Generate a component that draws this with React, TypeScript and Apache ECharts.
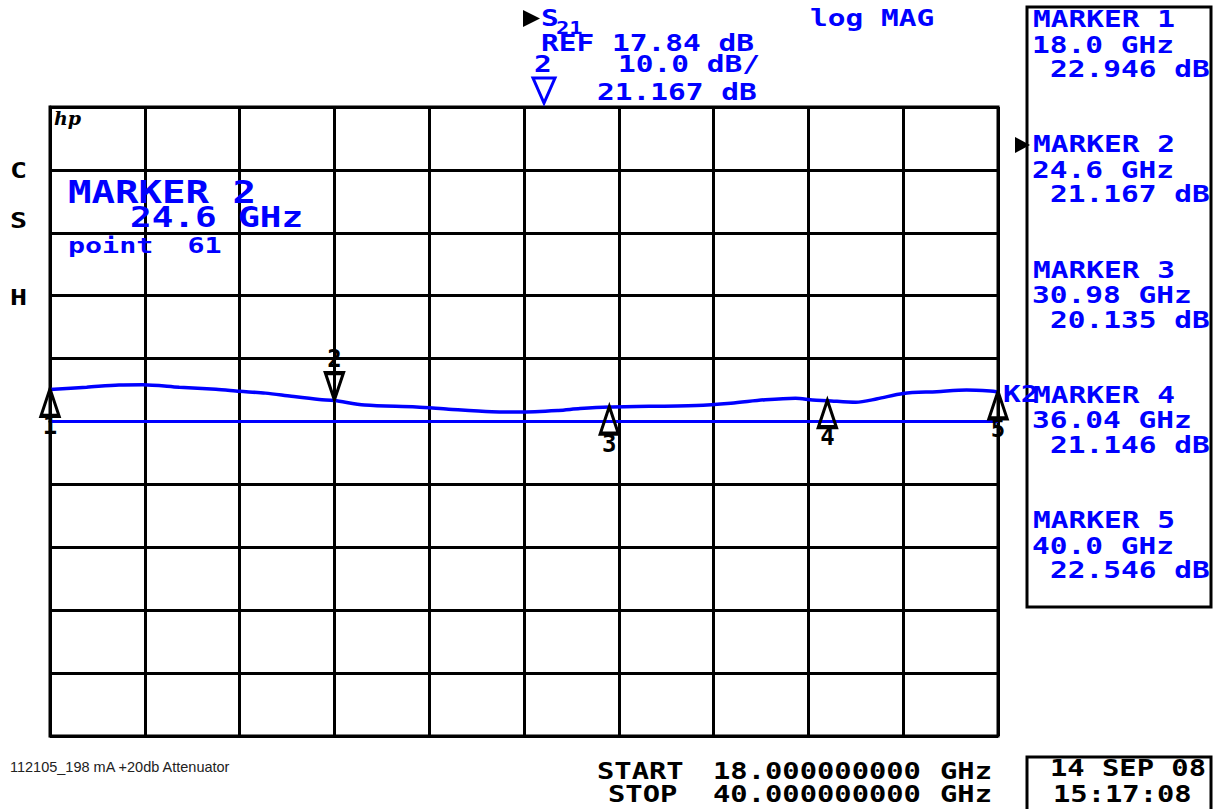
import React, { useEffect, useRef } from "react";
import * as echarts from "echarts";

// ---- data ----
const START_GHZ = 18;
const STOP_GHZ = 40;
const REF_DB = 17.84;
const SCALE_DB = 10; // dB per division
const X_DIVS = 10;
const Y_DIVS = 10;

const traceFreq = [
  18.0, 18.85, 19.6, 20.15, 21.0, 21.85, 22.4, 23.0, 23.6, 24.25, 24.6, 25.3,
  26.5, 27.25, 28.25, 28.9, 29.8, 30.3, 30.98, 33.0, 33.8, 34.6, 35.3, 35.7,
  36.04, 36.7, 37.2, 37.8, 38.58, 39.27, 39.82, 40.0,
];
const traceDb = [
  22.946, 23.3, 23.65, 23.7, 23.3, 22.95, 22.65, 22.35, 21.85, 21.35, 21.167,
  20.45, 20.15, 19.8, 19.4, 19.35, 19.6, 19.9, 20.135, 20.4, 20.75, 21.3, 21.55,
  21.25, 21.146, 20.9, 21.45, 22.3, 22.58, 22.85, 22.69, 22.546,
];

const markerNames = ["1", "2", "3", "4", "5"];
const markerFreq = [18.0, 24.6, 30.98, 36.04, 40.0];
const markerFreqLabel = ["18.0 GHz", "24.6 GHz", "30.98 GHz", "36.04 GHz", "40.0 GHz"];
const markerDb = [22.946, 21.167, 20.135, 21.146, 22.546];
const activeMarker = 1; // index of MARKER 2
const activePoint = 61;

const dateLines = ["14 SEP 08", "15:17:08"];
const footnote = "112105_198 mA +20db Attenuator";

// ---- styling ----
const BLUE = "#0000ff";
const MONO = '"DejaVu Sans Mono", monospace';

function txt(
  text: string,
  x: number,
  y: number,
  size = 22.5,
  color = BLUE,
  scaleX = 1.31
) {
  return {
    type: "text",
    x,
    y,
    scaleX,
    z: 100,
    style: {
      text,
      font: `bold ${size}px ${MONO}`,
      fill: color,
      textAlign: "left",
      verticalAlign: "middle",
      textVerticalAlign: "middle",
    },
  };
}

const toX = (f: number) => f - START_GHZ;
const toY = (db: number) => (db - REF_DB) / SCALE_DB;

export default function App() {
  const ref = useRef<HTMLDivElement>(null);

  useEffect(() => {
    if (!ref.current) return;
    const chart = echarts.init(ref.current, undefined, { renderer: "svg" });

    const span = STOP_GHZ - START_GHZ;
    const graphics: any[] = [];

    // header
    graphics.push({
      type: "polygon",
      shape: { points: [[523, 10], [540, 18.5], [523, 27]] },
      style: { fill: "#000" },
      z: 100,
    });
    graphics.push(txt("S", 541, 18.5));
    graphics.push(txt("21", 556, 28, 17, BLUE, 1.3));
    graphics.push(txt(`REF ${REF_DB.toFixed(2)} dB`, 541, 43.5));
    graphics.push(txt(String(activeMarker + 1), 534, 64.5));
    graphics.push(txt(`${SCALE_DB.toFixed(1)} dB/`, 618, 64.5));
    graphics.push({
      type: "polygon",
      shape: { points: [[533, 78], [555, 78], [544, 103]] },
      style: { fill: "none", stroke: BLUE, lineWidth: 3 },
      z: 100,
    });
    graphics.push(txt(`${markerDb[activeMarker].toFixed(3)} dB`, 597, 92.5));
    graphics.push(txt("log MAG", 810, 18.5));

    // marker panel
    graphics.push({
      type: "rect",
      shape: { x: 1027, y: 7, width: 184, height: 600 },
      style: { fill: "none", stroke: "#000", lineWidth: 3 },
      z: 100,
    });
    markerNames.forEach((n, i) => {
      const y0 = 19.5 + i * 125.2;
      graphics.push(txt(`MARKER ${n}`, 1033, y0));
      graphics.push(txt(markerFreqLabel[i], 1032, y0 + 25.5));
      graphics.push(txt(`${markerDb[i].toFixed(3)} dB`, 1050, y0 + 50));
    });
    graphics.push({
      type: "polygon",
      shape: { points: [[1015, 137], [1030, 145], [1015, 153]] },
      style: { fill: "#000" },
      z: 100,
    });
    graphics.push(txt("K2", 1003, 394));

    // left annotations
    graphics.push(txt("C", 10, 170.5, 21, "#000", 1.35));
    graphics.push(txt("S", 10, 220.5, 21, "#000", 1.35));
    graphics.push(txt("H", 10, 297.5, 21, "#000", 1.35));
    graphics.push({
      type: "text",
      x: 54,
      y: 118,
      z: 100,
      style: {
        text: "hp",
        font: `italic bold 19px "DejaVu Serif", serif`,
        fill: "#000",
        textAlign: "left",
        verticalAlign: "middle",
        textVerticalAlign: "middle",
      },
    });
    graphics.push(txt(`MARKER ${activeMarker + 1}`, 68, 191.5, 31.5, BLUE, 1.24));
    graphics.push(txt(markerFreqLabel[activeMarker], 130, 217.5, 29, BLUE, 1.24));
    graphics.push(txt(`point  ${activePoint}`, 68, 245.5, 21, BLUE, 1.35));

    // footer
    graphics.push({
      type: "text",
      x: 10,
      y: 767,
      z: 100,
      style: {
        text: footnote,
        font: `14.5px "Liberation Sans", Arial, sans-serif`,
        fill: "#222",
        textAlign: "left",
        verticalAlign: "middle",
        textVerticalAlign: "middle",
      },
    });
    graphics.push(txt("START", 597, 771, 22.5, "#000", 1.28));
    graphics.push(txt(START_GHZ.toFixed(9), 713, 771, 22.5, "#000", 1.28));
    graphics.push(txt("GHz", 940, 771, 22.5, "#000", 1.28));
    graphics.push(txt("STOP", 608, 794, 22.5, "#000", 1.28));
    graphics.push(txt(STOP_GHZ.toFixed(9), 713, 794, 22.5, "#000", 1.28));
    graphics.push(txt("GHz", 940, 794, 22.5, "#000", 1.28));
    graphics.push({
      type: "rect",
      shape: { x: 1027, y: 757, width: 184, height: 60 },
      style: { fill: "none", stroke: "#000", lineWidth: 3 },
      z: 100,
    });
    graphics.push(txt(dateLines[0], 1050, 768.5, 22.5, "#000", 1.28));
    graphics.push(txt(dateLines[1], 1053, 794, 22.5, "#000", 1.28));

    const labelBase = {
      show: true,
      color: "#000",
      fontFamily: MONO,
      fontWeight: "bold",
      fontSize: 24,
    };

    const option: any = {
      animation: false,
      backgroundColor: "#fff",
      grid: {
        left: 50,
        top: 107,
        width: 948,
        height: 629,
        show: true,
        borderColor: "#000",
        borderWidth: 3,
      },
      xAxis: {
        type: "value",
        min: 0,
        max: span,
        interval: span / X_DIVS,
        axisLine: { show: true, lineStyle: { color: "#000", width: 3 } },
        axisTick: { show: false },
        axisLabel: { show: false },
        splitLine: { show: true, lineStyle: { color: "#000", width: 3 } },
      },
      yAxis: {
        type: "value",
        min: -Y_DIVS / 2,
        max: Y_DIVS / 2,
        interval: 1,
        axisLine: { show: true, lineStyle: { color: "#000", width: 3 } },
        axisTick: { show: false },
        axisLabel: { show: false },
        splitLine: { show: true, lineStyle: { color: "#000", width: 3 } },
      },
      series: [
        {
          type: "line",
          name: "ref",
          data: [
            [toX(START_GHZ), toY(REF_DB)],
            [toX(STOP_GHZ), toY(REF_DB)],
          ],
          symbol: "none",
          lineStyle: { color: BLUE, width: 3 },
          z: 3,
        },
        {
          type: "line",
          name: "S21",
          data: traceFreq.map((f, i) => [toX(f), toY(traceDb[i])]),
          symbol: "none",
          smooth: 0.3,
          lineStyle: { color: BLUE, width: 3.5 },
          z: 4,
        },
        {
          type: "scatter",
          name: "markers",
          z: 5,
          data: markerFreq.map((f, i) => {
            const active = i === activeMarker;
            return {
              name: markerNames[i],
              value: [toX(f), toY(markerDb[i])],
              symbolRotate: active ? 180 : 0,
              symbolOffset: active ? [0, -14] : [0, 13],
              label: {
                ...labelBase,
                formatter: markerNames[i],
                position: active ? "top" : "bottom",
                distance: active ? 0 : -4,
              },
            };
          }),
          symbol: "triangle",
          symbolSize: [18, 27],
          itemStyle: {
            color: "rgba(255,255,255,0)",
            borderColor: "#000",
            borderWidth: 3.5,
            opacity: 1,
          },
          label: labelBase,
        },
      ],
      graphic: graphics,
    };

    chart.setOption(option);
    return () => chart.dispose();
  }, []);

  return (
    <div
      ref={ref}
      style={{
        position: "fixed",
        left: 0,
        top: 0,
        width: 1225,
        height: 809,
        background: "#fff",
      }}
    />
  );
}
